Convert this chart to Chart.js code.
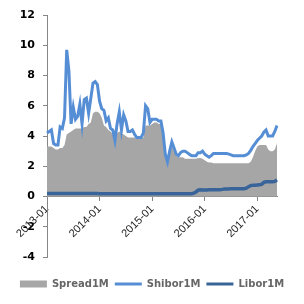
<!DOCTYPE html>
<html>
<head>
<meta charset="utf-8">
<script src="https://cdn.jsdelivr.net/npm/chart.js@4.4.1/dist/chart.umd.min.js"></script>
<style>
  html, body { margin: 0; padding: 0; background: #fff; }
  #wrap { width: 304px; height: 304px; position: relative; }
</style>
</head>
<body>
<div id="wrap"><canvas id="chart"></canvas></div>
<script>
// half-monthly samples
const DATES = [
  "2013-01-01","2013-01-16","2013-02-01","2013-02-16","2013-03-01","2013-03-16","2013-04-01","2013-04-16",
  "2013-05-01","2013-05-16","2013-06-01","2013-06-16","2013-07-01","2013-07-16","2013-08-01","2013-08-16",
  "2013-09-01","2013-09-16","2013-10-01","2013-10-16","2013-11-01","2013-11-16","2013-12-01","2013-12-16",
  "2014-01-01","2014-01-16","2014-02-01","2014-02-16","2014-03-01","2014-03-16","2014-04-01","2014-04-16",
  "2014-05-01","2014-05-16","2014-06-01","2014-06-16","2014-07-01","2014-07-16","2014-08-01","2014-08-16",
  "2014-09-01","2014-09-16","2014-10-01","2014-10-16","2014-11-01","2014-11-16","2014-12-01","2014-12-16",
  "2015-01-01","2015-01-16","2015-02-01","2015-02-16","2015-03-01","2015-03-16","2015-04-01","2015-04-16",
  "2015-05-01","2015-05-16","2015-06-01","2015-06-16","2015-07-01","2015-07-16","2015-08-01","2015-08-16",
  "2015-09-01","2015-09-16","2015-10-01","2015-10-16","2015-11-01","2015-11-16","2015-12-01","2015-12-16",
  "2016-01-01","2016-01-16","2016-02-01","2016-02-16","2016-03-01","2016-03-16","2016-04-01","2016-04-16",
  "2016-05-01","2016-05-16","2016-06-01","2016-06-16","2016-07-01","2016-07-16","2016-08-01","2016-08-16",
  "2016-09-01","2016-09-16","2016-10-01","2016-10-16","2016-11-01","2016-11-16","2016-12-01","2016-12-16",
  "2017-01-01","2017-01-16","2017-02-01","2017-02-16","2017-03-01","2017-03-16","2017-04-01","2017-04-16",
  "2017-05-01","2017-05-16",
];

const SHIBOR_1M = [
  4.2, 4.3, 4.4, 3.5, 3.4, 3.4, 4.6, 4.5, 5.2, 9.7, 8.3, 4.8, 5.9, 5.1, 5.3, 6.1, 4.8, 6.4, 6.5, 5.5, 6.5, 7.5, 7.6, 7.4,
  6.3, 5.8, 5.7, 5.0, 5.2, 4.5, 4.4, 3.7, 4.8, 5.6, 4.4, 5.4, 5.0, 4.3, 4.3, 4.4, 4.1, 3.9, 3.9, 3.9, 4.2, 6.0, 5.8, 4.9,
  5.1, 5.1, 5.1, 5.0, 5.0, 4.2, 2.8, 2.3, 3.0, 3.6, 3.2, 2.8, 2.7, 2.9, 3.0, 3.0, 2.9, 2.8, 2.7, 2.7, 2.7, 2.9, 2.9, 3.0,
  2.8, 2.7, 2.6, 2.7, 2.85, 2.85, 2.85, 2.85, 2.85, 2.85, 2.85, 2.8, 2.75, 2.7, 2.7, 2.7, 2.7, 2.7, 2.7, 2.75, 2.85, 3.05, 3.3, 3.5,
  3.7, 3.85, 4.0, 4.25, 4.4, 4.0, 4.0, 4.0, 4.3, 4.7,
];

const SPREAD_1M = [
  3.3, 3.3, 3.3, 3.2, 3.1, 3.1, 3.2, 3.2, 3.4, 4.1, 4.2, 4.3, 4.4, 4.5, 4.5, 4.5, 4.5, 4.6, 4.6, 4.8, 4.9, 5.5, 5.6, 5.6,
  5.5, 5.2, 4.7, 4.6, 4.4, 4.3, 4.1, 3.6, 4.2, 4.3, 4.2, 4.1, 4.0, 3.9, 3.9, 3.9, 3.9, 3.8, 3.8, 3.8, 3.9, 4.7, 4.7, 4.7,
  4.8, 4.9, 4.9, 4.8, 4.8, 4.0, 2.6, 2.1, 2.8, 3.3, 3.0, 2.7, 2.6, 2.6, 2.6, 2.5, 2.5, 2.5, 2.5, 2.5, 2.5, 2.55, 2.55, 2.5,
  2.4, 2.3, 2.25, 2.25, 2.2, 2.2, 2.2, 2.2, 2.2, 2.2, 2.2, 2.2, 2.2, 2.2, 2.2, 2.2, 2.2, 2.2, 2.2, 2.2, 2.2, 2.3, 2.6, 3.0,
  3.3, 3.4, 3.4, 3.4, 3.4, 3.1, 3.0, 3.0, 3.1, 3.5,
];

const LIBOR_1M = [
  0.2, 0.2, 0.2, 0.2, 0.2, 0.2, 0.2, 0.2, 0.2, 0.2, 0.2, 0.2, 0.2, 0.2, 0.2, 0.2, 0.2, 0.2, 0.2, 0.2, 0.2, 0.2, 0.2, 0.2,
  0.18, 0.18, 0.18, 0.18, 0.18, 0.18, 0.18, 0.18, 0.18, 0.18, 0.18, 0.18, 0.18, 0.18, 0.18, 0.18, 0.18, 0.18, 0.18, 0.18, 0.18, 0.18, 0.18, 0.18,
  0.18, 0.18, 0.18, 0.18, 0.18, 0.18, 0.18, 0.18, 0.18, 0.18, 0.18, 0.18, 0.18, 0.18, 0.18, 0.18, 0.18, 0.18, 0.18, 0.22, 0.3, 0.42, 0.44, 0.43,
  0.43, 0.43, 0.44, 0.44, 0.44, 0.44, 0.45, 0.45, 0.47, 0.5, 0.5, 0.5, 0.52, 0.52, 0.52, 0.52, 0.52, 0.52, 0.52, 0.55, 0.65, 0.72, 0.75, 0.75,
  0.76, 0.77, 0.8, 0.93, 0.97, 0.98, 0.98, 0.98, 1.0, 1.1,
];

const X_TICK_LABELS = ["2013-01", "2014-01", "2015-01", "2016-01", "2017-01"];
const Y_MIN = -4;
const Y_MAX = 12;
const Y_STEP = 2;

const GRAY = "#a6a6a6";
const SHIBOR_BLUE = "#558ed5";
const LIBOR_BLUE = "#386499";
const AXIS_GRAY = "#868686";

Chart.defaults.font.family = "'DejaVu Sans', sans-serif";

new Chart(document.getElementById("chart"), {
  type: "line",
  data: {
    labels: DATES,
    datasets: [
      {
        label: "Spread1M",
        data: SPREAD_1M,
        fill: "origin",
        backgroundColor: GRAY,
        borderWidth: 0,
        pointRadius: 0,
        order: 3,
      },
      {
        label: "Shibor1M",
        data: SHIBOR_1M,
        borderColor: SHIBOR_BLUE,
        borderWidth: 3,
        pointRadius: 0,
        fill: false,
        order: 2,
      },
      {
        label: "Libor1M",
        data: LIBOR_1M,
        borderColor: LIBOR_BLUE,
        borderWidth: 3.5,
        pointRadius: 0,
        fill: false,
        order: 1,
      },
    ],
  },
  options: {
    responsive: true,
    maintainAspectRatio: false,
    animation: false,
    events: [],
    layout: { padding: { top: 15, bottom: 5, left: 0, right: 0 } },
    elements: { line: { tension: 0 } },
    scales: {
      x: {
        type: "category",
        position: { y: 0 },
        afterBuildTicks: (s) => {
          s.ticks = s.ticks.filter((t) => {
            const d = DATES[t.value];
            return d.endsWith("-01-01") && X_TICK_LABELS.includes(d.slice(0, 7));
          });
        },
        ticks: {
          autoSkip: false,
          minRotation: 45,
          maxRotation: 45,
          padding: 2,
          color: "#222",
          font: { family: "'Liberation Sans', Arial, sans-serif", size: 11 },
          callback: function (value) {
            return this.getLabelForValue(value).slice(0, 7);
          },
        },
        grid: { drawOnChartArea: false, color: AXIS_GRAY, tickLength: 4 },
        border: { color: AXIS_GRAY },
      },
      y: {
        position: "left",
        min: Y_MIN,
        max: Y_MAX,
        afterFit: (s) => { s.width = 47; },
        ticks: {
          stepSize: Y_STEP,
          padding: 8,
          color: "#000",
          font: { size: 11, weight: "bold" },
        },
        grid: { drawOnChartArea: false, color: AXIS_GRAY, tickLength: 4 },
        border: { color: AXIS_GRAY },
      },
      yPad: {
        position: "right",
        afterFit: (s) => { s.width = 27; },
        ticks: { display: false },
        grid: { display: false },
        border: { display: false },
      },
    },
    plugins: {
      tooltip: { enabled: false },
      legend: {
        position: "bottom",
        title: { display: true, text: "", font: { size: 10 }, padding: { top: 0, bottom: 4 } },
        labels: {
          usePointStyle: true,
          pointStyleWidth: 27,
          boxHeight: 7,
          padding: 6,
          color: "#000",
          font: { size: 10, weight: "bold" },
          generateLabels: (chart) => chart.data.datasets.map((ds, i) => ({
            text: ds.label,
            fillStyle: i === 0 ? GRAY : ds.borderColor,
            strokeStyle: i === 0 ? GRAY : ds.borderColor,
            lineWidth: i === 0 ? 0 : 3,
            pointStyle: i === 0 ? "rect" : "line",
            hidden: false,
            datasetIndex: i,
          })),
        },
      },
    },
  },
});
</script>
</body>
</html>
